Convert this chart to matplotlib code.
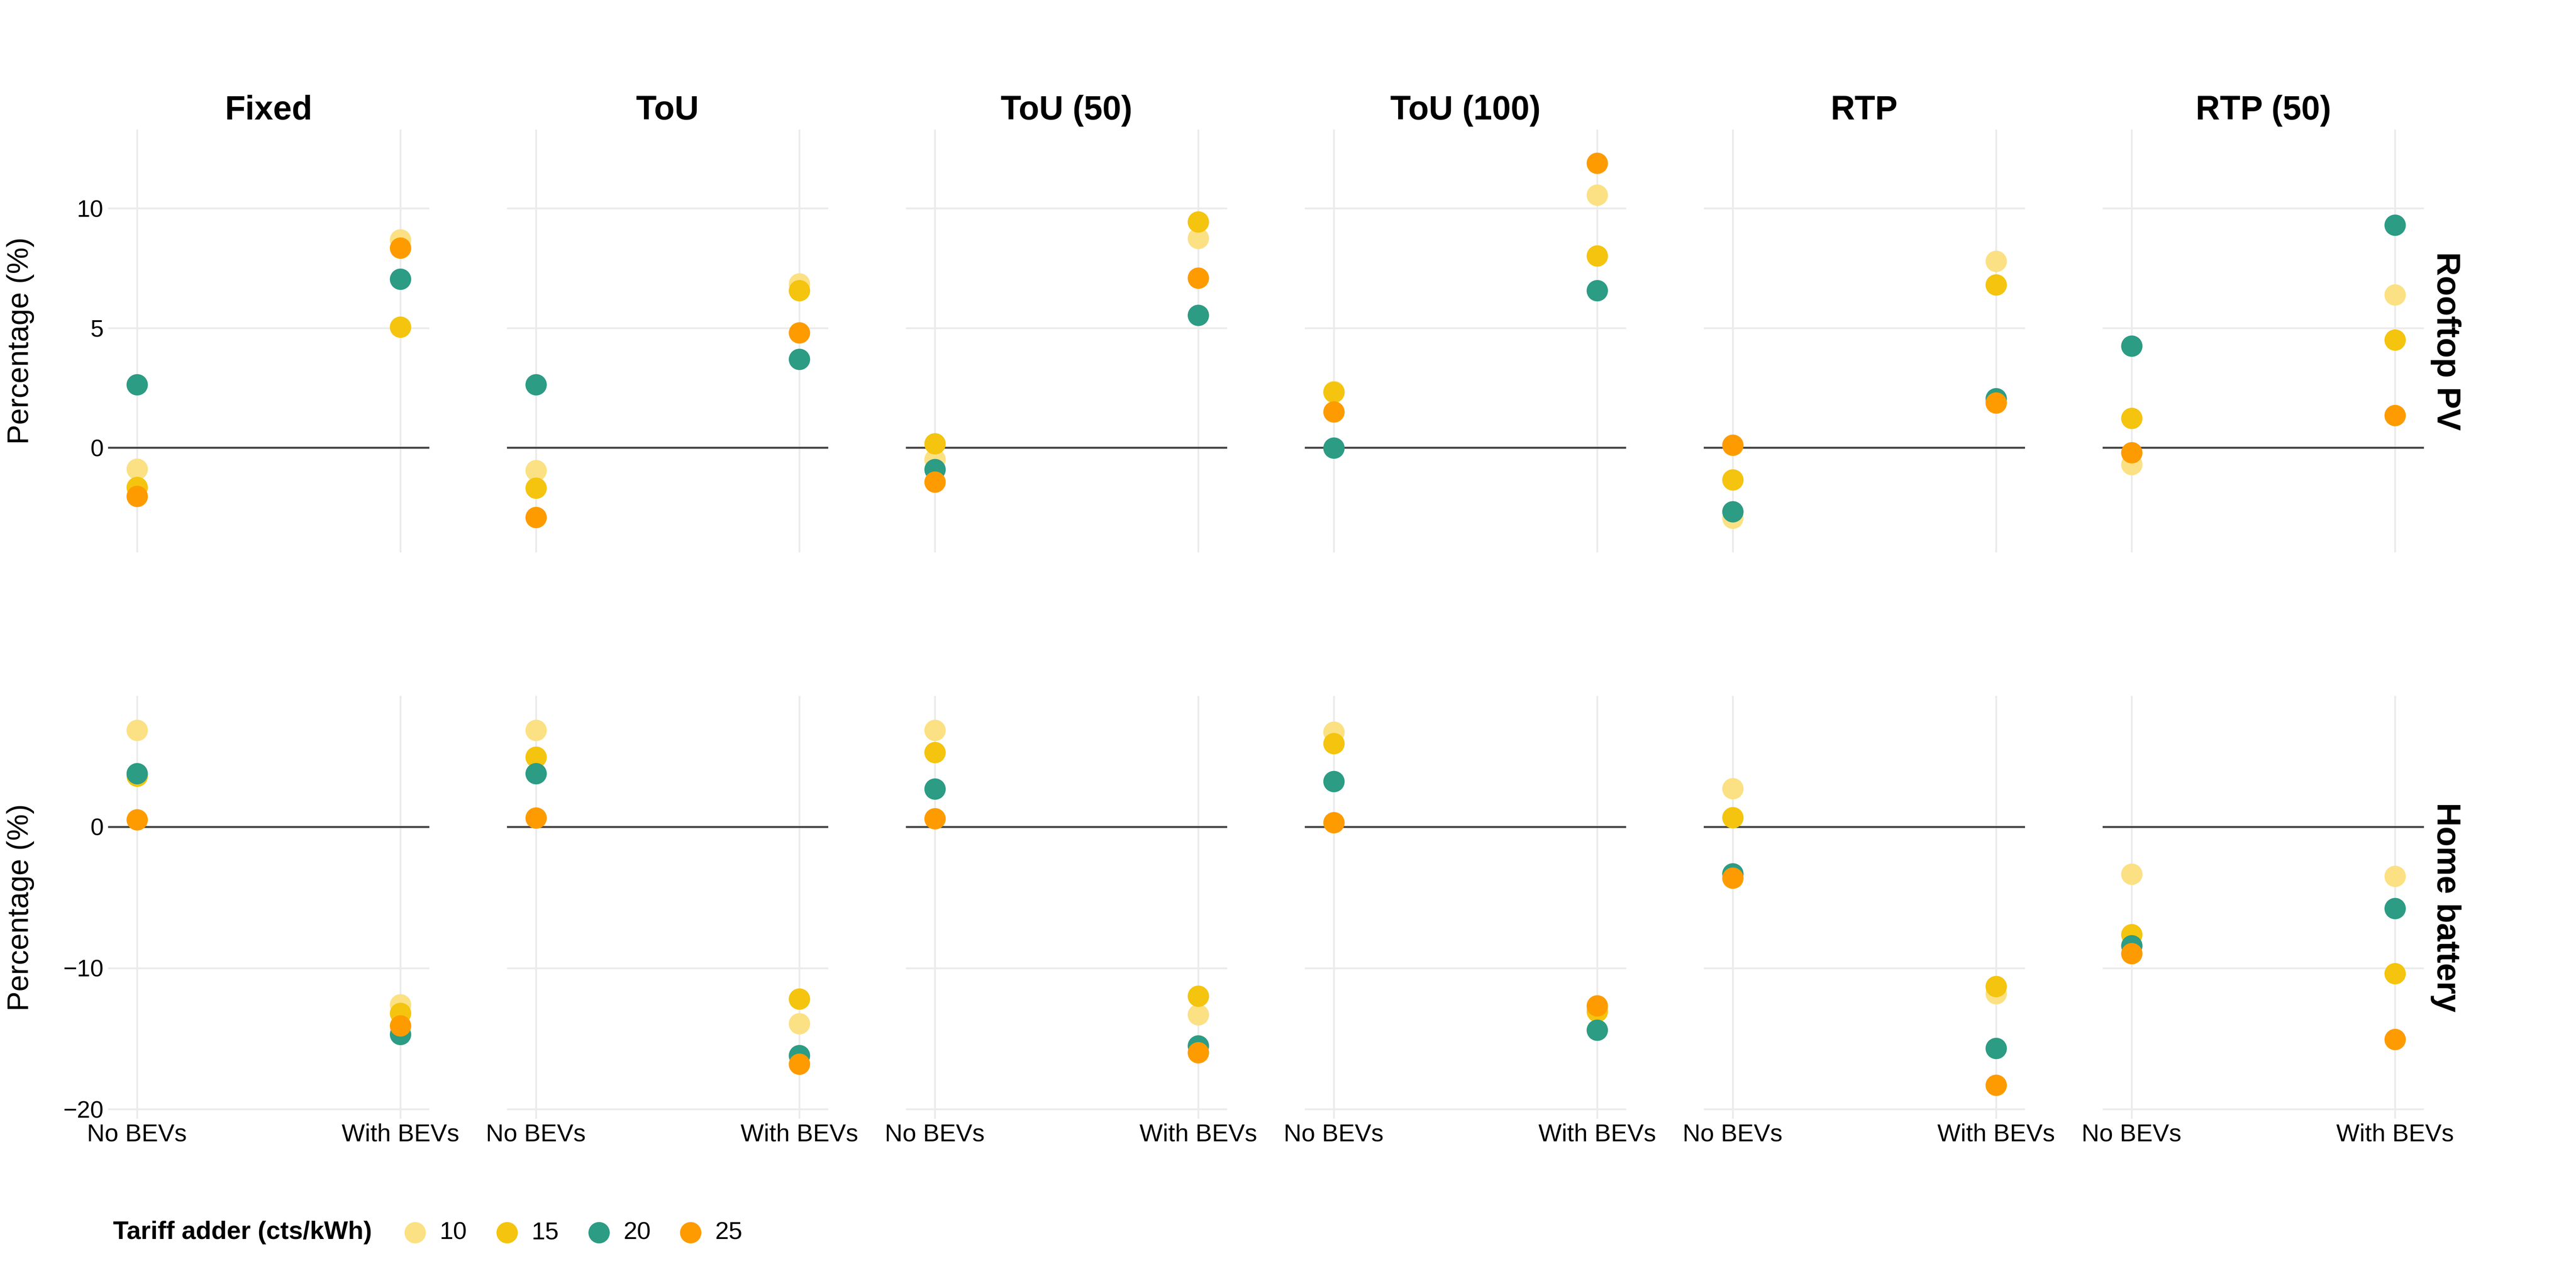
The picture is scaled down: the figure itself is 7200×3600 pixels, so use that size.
import matplotlib
matplotlib.use("Agg")
import matplotlib.pyplot as plt

plt.rcParams["font.family"] = ["Liberation Sans", "DejaVu Sans"]

scenarios = ["Fixed", "ToU", "ToU (50)", "ToU (100)", "RTP", "RTP (50)"]
bev_groups = ["No BEVs", "With BEVs"]
adders = [10, 15, 20, 25]
colors = ["#FBE183", "#F4C40F", "#2C9C84", "#FE9B00"]

# Rooftop PV, change in %, one value per scenario
pv_no_10 = [-0.89, -0.96, -0.50, 2.35, -2.95, -0.70]
pv_no_15 = [-1.66, -1.69, 0.17, 2.32, -1.34, 1.23]
pv_no_20 = [2.63, 2.63, -0.91, -0.01, -2.68, 4.25]
pv_no_25 = [-2.04, -2.92, -1.44, 1.49, 0.10, -0.21]
pv_with_10 = [8.69, 6.84, 8.74, 10.56, 7.79, 6.38]
pv_with_15 = [5.04, 6.56, 9.44, 8.02, 6.80, 4.50]
pv_with_20 = [7.04, 3.70, 5.53, 6.56, 2.05, 9.30]
pv_with_25 = [8.34, 4.80, 7.09, 11.89, 1.87, 1.35]

# Home battery, change in %
bat_no_10 = [6.84, 6.83, 6.85, 6.71, 2.72, -3.36]
bat_no_15 = [3.60, 4.93, 5.27, 5.89, 0.66, -7.62]
bat_no_20 = [3.78, 3.77, 2.67, 3.22, -3.32, -8.42]
bat_no_25 = [0.50, 0.64, 0.59, 0.30, -3.62, -8.97]
bat_with_10 = [-12.6, -13.95, -13.3, -12.9, -11.8, -3.50]
bat_with_15 = [-13.2, -12.2, -12.0, -13.09, -11.3, -10.39]
bat_with_20 = [-14.7, -16.2, -15.5, -14.39, -15.7, -5.77]
bat_with_25 = [-14.1, -16.8, -16.0, -12.68, -18.3, -15.06]

pv_no = [pv_no_10, pv_no_15, pv_no_20, pv_no_25]
pv_with = [pv_with_10, pv_with_15, pv_with_20, pv_with_25]
bat_no = [bat_no_10, bat_no_15, bat_no_20, bat_no_25]
bat_with = [bat_with_10, bat_with_15, bat_with_20, bat_with_25]

rows = [
    ("Rooftop PV", pv_no, pv_with, (-4.38, 13.29), [0, 5, 10]),
    ("Home battery", bat_no, bat_with, (-20.68, 9.27), [-20, -10, 0]),
]

W, H = 7200, 3600
left0, pitch, pw = 302 / W, 1115 / W, 898 / W
row_bottoms = [1 - 1544 / H, 1 - 3127 / H]
ph = 1182 / H

fig = plt.figure(figsize=(24, 12), dpi=300)
handles = []

for r, (row_name, no_vals, with_vals, ylim, yticks) in enumerate(rows):
    for c, scen in enumerate(scenarios):
        ax = fig.add_axes([left0 + c * pitch, row_bottoms[r], pw, ph])
        ax.set_xlim(0.89, 2.11)
        ax.set_ylim(*ylim)
        ax.set_xticks([1, 2])
        ax.set_yticks(yticks)
        ax.grid(True, color="#EBEBEB", linewidth=1.2)
        ax.set_axisbelow(True)
        ax.axhline(0, color="#404040", linewidth=1.3, zorder=1.5)

        for k in range(len(adders)):
            sc = ax.scatter([1, 2], [no_vals[k][c], with_vals[k][c]], s=205,
                            color=colors[k], linewidths=0, zorder=3,
                            label=str(adders[k]))
            if r == 0 and c == 0:
                handles.append(sc)

        for sp in ax.spines.values():
            sp.set_visible(False)
        ax.tick_params(length=0, labelsize=16, labelcolor="black", pad=3)
        if c == 0:
            ax.set_yticklabels([f"{t}".replace("-", "\u2212") for t in yticks])
        else:
            ax.set_yticklabels([])
        if r == 1:
            ax.set_xticklabels(bev_groups, fontsize=16.5)
        else:
            ax.set_xticklabels([])

        if r == 0:
            ax.text(0.5, (362 - 334) / 1182 + 1, scen, transform=ax.transAxes,
                    ha="center", va="baseline", fontsize=22.5, fontweight="bold")
        if c == len(scenarios) - 1:
            ax.text(1.068, 0.5, row_name, transform=ax.transAxes, rotation=-90,
                    ha="center", va="center", fontsize=22, fontweight="bold")

    fig.text(57 / W, row_bottoms[r] + ph / 2, "Percentage (%)", rotation=90,
             ha="center", va="center", fontsize=20)

leg_y = 1 - 3445 / H
fig.text(316 / W, leg_y, "Tariff adder (cts/kWh)", ha="left",
         va="center", fontsize=17, fontweight="bold")
fig.legend(handles, [str(a) for a in adders], loc="center left",
           bbox_to_anchor=(1126 / W, leg_y), ncol=4, frameon=False,
           fontsize=16.5, handlelength=1.0, handletextpad=0.5,
           columnspacing=1.12, borderpad=0, borderaxespad=0, scatterpoints=1)

fig.savefig("out.png", dpi=300, facecolor="white")
